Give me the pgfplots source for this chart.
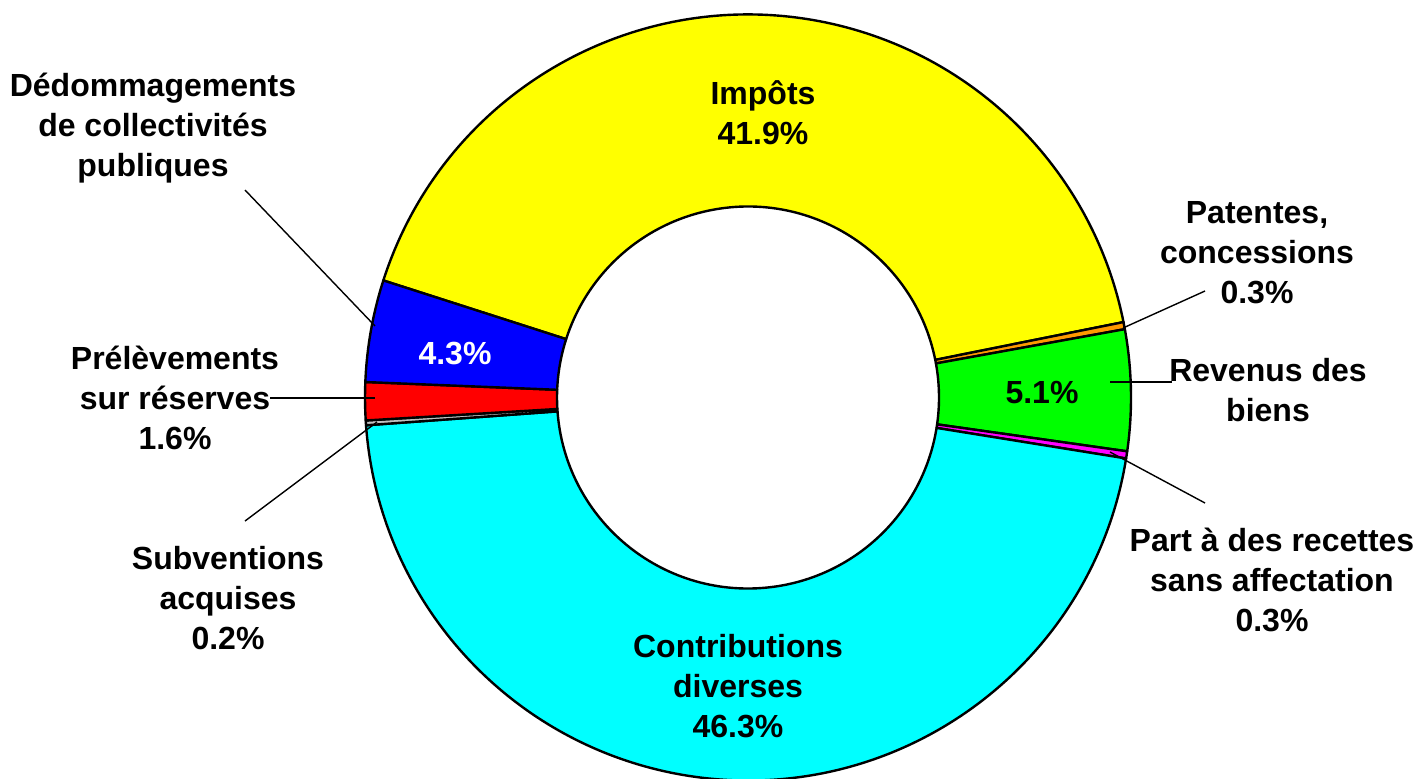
\documentclass[border=0pt]{standalone}
\usepackage{fontspec}
\setmainfont{Liberation Sans}
\usepackage{pgfplots}
\usepackage{pgfplotstable}
\pgfplotsset{compat=1.18}
\usetikzlibrary{calc}
\definecolor{cyellow}{HTML}{FFFF00}
\definecolor{corange}{HTML}{FF9900}
\definecolor{cgreen}{HTML}{00FF00}
\definecolor{cmagenta}{HTML}{FF00FF}
\definecolor{ccyan}{HTML}{00FFFF}
\definecolor{cgray}{HTML}{C0C0C0}
\definecolor{cred}{HTML}{FF0000}
\definecolor{cblue}{HTML}{0000FF}
\pgfplotstableread[col sep=comma]{
name,value,color
Impots,41.9,cyellow
Patentes,0.3,corange
Revenus,5.1,cgreen
Part,0.3,cmagenta
Contributions,46.3,ccyan
Subventions,0.2,cgray
Prelevements,1.6,cred
Dedommagements,4.3,cblue
}\slices
\begin{document}
\begin{tikzpicture}
\begin{axis}[name=ax, scale only axis, width=709pt, height=389pt,
  xmin=0, xmax=1418, ymin=0, ymax=778, y dir=reverse, hide axis, clip=false]
\pgfplotstablegetrowsof{\slices}
\pgfmathtruncatemacro{\lastrow}{\pgfplotsretval-1}
\pgfmathsetmacro{\angstart}{162.2}
\pgfplotsforeachungrouped \i in {0,...,\lastrow}{%
  \pgfplotstablegetelem{\i}{value}\of\slices \let\val\pgfplotsretval
  \pgfplotstablegetelem{\i}{color}\of\slices \let\col\pgfplotsretval
  \pgfmathsetmacro{\angend}{\angstart-3.6*\val}%
  \edef\slicecmd{\noexpand\filldraw[fill=\col,draw=black,line width=1.2pt,line join=round]
    ($(axis cs:748,397.5)+(\angstart:191.5pt)$) arc[start angle=\angstart,end angle=\angend,radius=191.5pt]
    -- ($(axis cs:748,397.5)+(\angend:95.5pt)$) arc[start angle=\angend,end angle=\angstart,radius=95.5pt] -- cycle;}%
  \slicecmd
  \global\let\angstart\angend
}
% leader lines
\draw[line width=0.7pt] (axis cs:245,190) -- (axis cs:375,326);
\draw[line width=0.7pt] (axis cs:270,398) -- (axis cs:375,398);
\draw[line width=0.7pt] (axis cs:245,521) -- (axis cs:377,422);
\draw[line width=0.7pt] (axis cs:1205,291) -- (axis cs:1123,328);
\draw[line width=0.7pt] (axis cs:1110,382) -- (axis cs:1172,382);
\draw[line width=0.7pt] (axis cs:1205,503) -- (axis cs:1110,452);
% labels
\tikzset{lab/.style={align=center, inner sep=0pt, font=\fontsize{16}{20}\selectfont\bfseries}}
\node[lab] at (axis cs:763,113) {Impôts\\41.9\%};
\node[lab, text=white] at (axis cs:455,353) {4.3\%};
\node[lab] at (axis cs:1042,393) {5.1\%};
\node[lab] at (axis cs:738,686) {Contributions\\diverses\\46.3\%};
\node[lab] at (axis cs:153,128) {Dédommagements\\de collectivités\\publiques};
\node[lab] at (axis cs:175,398) {Prélèvements\\sur réserves\\1.6\%};
\node[lab] at (axis cs:228,598) {Subventions\\acquises\\0.2\%};
\node[lab] at (axis cs:1257,253) {Patentes,\\concessions\\0.3\%};
\node[lab] at (axis cs:1268,390) {Revenus des\\biens};
\node[lab] at (axis cs:1272,580) {Part à des recettes\\sans affectation\\0.3\%};
\end{axis}
\pgfresetboundingbox
\path[use as bounding box] (ax.south west) rectangle (ax.north east);
\end{tikzpicture}
\end{document}
